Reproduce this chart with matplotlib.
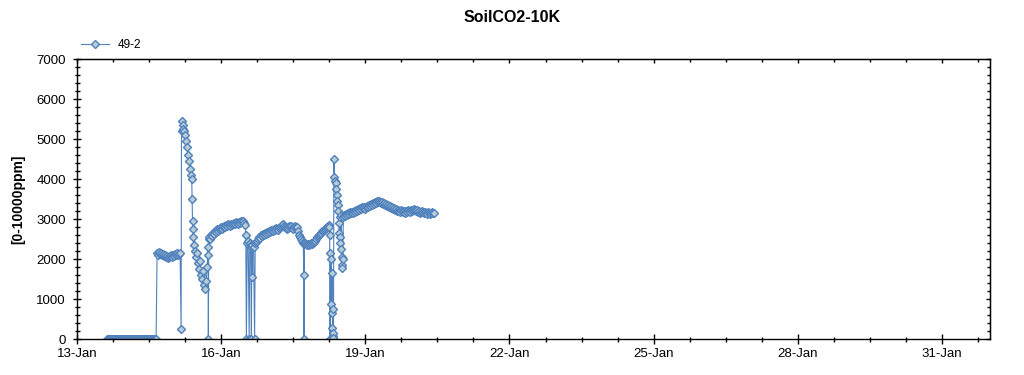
import datetime as dt
import matplotlib
matplotlib.use('Agg')
import matplotlib.pyplot as plt
import matplotlib.dates as mdates
from matplotlib.ticker import FixedLocator, MultipleLocator, NullFormatter
import numpy as np

plt.rcParams['font.family'] = ['Liberation Sans', 'DejaVu Sans']

# all times are hours after 13-Jan 00:00 (ppm)

# sensor sitting at zero
zero_h = [15, 15.5, 16, 16.5, 17, 17.5, 18, 18.5, 19, 19.5, 20, 20.5, 21, 21.5, 22, 22.5, 23, 23.5,
          24, 24.5, 25, 25.5, 26, 26.5, 27, 27.5, 28, 28.5, 29, 29.5, 30, 30.5, 31, 31.5, 32, 32.5,
          33, 33.5, 34, 34.5, 35, 35.5, 36, 36.5, 37, 37.5, 38, 38.5, 39, 39.5]
zero_v = [0, 0, 0, 0, 0, 0, 0, 0, 0, 0, 0, 0, 0, 0, 0, 0, 0, 0,
          0, 0, 0, 0, 0, 0, 0, 0, 0, 0, 0, 0, 0, 0, 0, 0, 0, 0,
          0, 0, 0, 0, 0, 0, 0, 0, 0, 0, 0, 0, 0, 0]

# first plateau ~2100
plat1_h = [40, 40.5, 41, 41.5, 42, 42.5, 43, 43.5, 44, 44.5, 45, 45.5,
           46, 46.5, 47, 47.5, 48, 48.5, 49, 49.5, 50, 50.5, 51, 51.5]
plat1_v = [2150, 2100, 2175, 2125, 2150, 2100, 2125, 2075, 2100, 2050, 2075, 2025,
           2050, 2075, 2100, 2050, 2100, 2075, 2125, 2100, 2150, 2100, 2125, 2150]

# spike to 5400 and the noisy trough after it
spike_h = [52.0, 52.2, 52.4, 52.7, 53.0, 53.4, 53.9, 54.4, 54.9, 55.4, 55.9, 56.4, 56.9, 57.3, 57.5, 57.7, 57.9,
           58.1, 58.5, 59, 59.5, 60, 60.5, 61, 61.5, 62, 62.5, 63, 63.5, 64, 64.5, 65, 65.3, 65.5, 65.6]
spike_v = [250, 5450, 5200, 5350, 5250, 5200, 5100, 4950, 4800, 4600, 4450, 4250, 4100, 4000, 3500, 2950, 2750,
           2550, 2350, 2200, 2050, 2150, 1900, 1750, 1950, 1600, 1500, 1700, 1350, 1250, 1450, 1800, 2100, 2300, 0]

# rise to ~2900
plat2_h = [65.8, 66, 66.5, 67, 67.5, 68, 68.5, 69, 69.5, 70, 70.5, 71, 71.5, 72, 72.5, 73, 73.5, 74, 74.5,
           75, 75.5, 76, 76.5, 77, 77.5, 78, 78.5, 79, 79.5, 80, 80.5, 81, 81.5, 82, 82.5, 83, 83.5, 84]
plat2_v = [2500, 2550, 2500, 2600, 2575, 2650, 2625, 2700, 2675, 2750, 2700, 2750, 2775, 2800, 2750, 2800, 2825, 2800, 2850,
           2825, 2875, 2850, 2825, 2875, 2850, 2875, 2900, 2875, 2925, 2900, 2875, 2925, 2900, 2950, 2925, 2950, 2900, 2850]

# dropouts around 16-Jan noon
drop1_h = [84.3, 84.6, 85.0, 85.5, 86.0, 86.3, 86.8, 87.1, 87.3, 87.4, 87.6, 88.2, 88.7]
drop1_v = [2600, 0, 2400, 2450, 0, 2400, 2350, 0, 2300, 1550, 2350, 2300, 0]

# second rise to ~2800
plat3_h = [89, 89.5, 90, 90.5, 91, 91.5, 92, 92.5, 93, 93.5, 94, 94.5, 95, 95.5, 96, 96.5, 97, 97.5,
           98, 98.5, 99, 99.5, 100, 100.5, 101, 101.5, 102, 102.5, 103, 103.5, 104, 104.5, 105, 105.5,
           106, 106.5, 107, 107.5, 108, 108.5, 109, 109.5, 110,
           110.5, 111, 111.5, 112, 112.5, 113, 113.3, 113.4, 113.6]
plat3_v = [2400, 2425, 2450, 2500, 2550, 2525, 2600, 2575, 2625, 2600, 2650, 2625, 2675, 2650, 2700, 2675, 2725, 2700,
           2700, 2750, 2725, 2775, 2750, 2725, 2775, 2800, 2825, 2850, 2875, 2825, 2800, 2775, 2750, 2775,
           2825, 2800, 2825, 2775, 2750, 2800, 2825, 2800, 2800,
           2700, 2600, 2550, 2500, 2450, 2400, 1600, 0, 2400]

plat4_h = [114, 114.5, 115, 115.5, 116, 116.5, 117, 117.5, 118, 118.5, 119, 119.5,
           120, 120.5, 121, 121.5, 122, 122.5, 123, 123.5, 124, 124.5, 125, 125.5, 125.8]
plat4_v = [2400, 2375, 2350, 2375, 2350, 2375, 2400, 2375, 2400, 2425, 2450, 2500,
           2550, 2575, 2600, 2625, 2650, 2700, 2700, 2725, 2750, 2775, 2800, 2825, 2850]

# dropouts and 4500 spike on 18-Jan
drop2_h = [126.0, 126.2, 126.4, 126.6, 126.8, 127.0, 127.2, 127.4, 127.6, 127.8, 127.9,
           128.0, 128.1, 128.3, 128.6, 128.9, 129.2, 129.5, 129.8, 130.1, 130.4, 130.6, 130.8,
           131.0, 131.2, 131.4, 131.6, 131.8, 132.0, 132.2, 132.4, 132.6, 132.8]
drop2_v = [2800, 2600, 0, 2150, 875, 2000, 650, 1650, 275, 750, 75,
           160, 25, 4500, 4050, 3950, 3900, 3750, 3600, 3450, 3350, 3200, 2900,
           2650, 3050, 2550, 2400, 2250, 3100, 2050, 1850, 1775, 2000]

# last stretch ~3100-3450
plat5_h = [133, 133.5, 134, 134.5, 135, 135.5, 136, 136.5, 137, 137.5,
           138, 138.5, 139, 139.5, 140, 140.5, 141, 141.5, 142, 142.5,
           143, 143.5, 144, 144.5, 145, 145.5, 146, 146.5, 147, 147.5,
           148, 148.5, 149, 149.5, 150, 150.5, 151, 151.5, 152, 152.5,
           153, 153.5, 154, 154.5, 155, 155.5, 156, 156.5, 157, 157.5,
           158, 158.5, 159, 159.5, 160, 160.5, 161, 161.5, 162, 162.5,
           163, 163.5, 164, 164.5, 165, 165.5, 166, 166.5, 167, 167.5,
           168, 168.5, 169, 169.5, 170, 170.5, 171, 171.5, 172, 172.5,
           173, 173.5, 174, 174.5, 175, 175.5, 176, 176.5, 177, 177.5,
           178, 178.5]
plat5_v = [3050, 3100, 3075, 3125, 3100, 3150, 3125, 3175, 3150, 3175,
           3150, 3200, 3175, 3225, 3200, 3250, 3225, 3275, 3250, 3300,
           3275, 3300, 3250, 3300, 3325, 3300, 3350, 3325, 3375, 3350,
           3400, 3375, 3425, 3400, 3450, 3425, 3450, 3425, 3400, 3425,
           3375, 3400, 3350, 3375, 3325, 3350, 3300, 3325, 3275, 3300,
           3250, 3275, 3225, 3250, 3200, 3225, 3200, 3175, 3225, 3200,
           3175, 3200, 3150, 3200, 3175, 3225, 3200, 3175, 3225, 3200,
           3225, 3250, 3225, 3200, 3225, 3175, 3200, 3150, 3175, 3200,
           3175, 3150, 3175, 3150, 3125, 3175, 3150, 3125, 3150, 3175,
           3150, 3140]

hours = (zero_h + plat1_h + spike_h + plat2_h + drop1_h + plat3_h
         + plat4_h + drop2_h + plat5_h)
ppm = (zero_v + plat1_v + spike_v + plat2_v + drop1_v + plat3_v
       + plat4_v + drop2_v + plat5_v)
assert len(hours) == len(ppm)

series_name = '49-2'
start = dt.datetime(2015, 1, 13)
end = dt.datetime(2015, 2, 1)
times = [start + dt.timedelta(hours=h) for h in hours]

blue = '#4f81bd'
face = '#b9ccd6'

fig = plt.figure(figsize=(10.24, 3.75), dpi=100)
ax = fig.add_axes([77 / 1024, 36 / 375, 913 / 1024, 280 / 375])

ax.plot(times, ppm, color=blue, lw=0.8, marker='D', ms=4.0,
        mfc=face, mec=blue, mew=1.0, label=series_name)

ax.set_xlim(start, end)
ax.set_ylim(0, 7000)

x0 = mdates.date2num(start)
major = x0 + np.arange(0, 19.01, 3)
minor = x0 + np.arange(0, 19.01, 0.75)
ax.xaxis.set_major_locator(FixedLocator(major))
ax.xaxis.set_minor_locator(FixedLocator(minor))
ax.xaxis.set_major_formatter(mdates.DateFormatter('%d-%b'))
ax.yaxis.set_major_locator(MultipleLocator(1000))
ax.yaxis.set_minor_locator(MultipleLocator(200))

ax.tick_params(axis='y', which='major', direction='inout', length=6, width=1, labelsize=9.5, pad=5)
ax.tick_params(axis='y', which='minor', direction='inout', length=3.6, width=1)
ax.tick_params(axis='x', which='major', direction='inout', length=7.2, width=1, labelsize=9.5, pad=3)
ax.tick_params(axis='x', which='minor', direction='inout', length=3.6, width=1)

# top and right spines carry inward ticks only
top = ax.secondary_xaxis('top')
top.xaxis.set_major_locator(FixedLocator(major))
top.xaxis.set_minor_locator(FixedLocator(minor))
top.xaxis.set_major_formatter(NullFormatter())
top.tick_params(which='major', direction='in', length=3, width=1)
top.tick_params(which='minor', direction='in', length=2.2, width=1)

right = ax.secondary_yaxis('right')
right.yaxis.set_major_locator(MultipleLocator(1000))
right.yaxis.set_minor_locator(MultipleLocator(200))
right.yaxis.set_major_formatter(NullFormatter())
right.tick_params(which='major', direction='in', length=3, width=1)
right.tick_params(which='minor', direction='in', length=2.2, width=1)

for s in ax.spines.values():
    s.set_linewidth(1)

fig.text(0.5, 1 - 18 / 375, 'SoilCO2-10K', ha='center', va='center',
         fontsize=11.5, fontweight='bold')
fig.text(18 / 1024, 1 - 199 / 375, '[0-10000ppm]', ha='center', va='center',
         rotation=90, fontsize=10, fontweight='bold')

fig.legend(loc='center left', bbox_to_anchor=(81 / 1024, 1 - 45 / 375),
           frameon=False, fontsize=8.5, handlelength=2.4, handletextpad=0.7,
           borderpad=0, borderaxespad=0)

fig.savefig('out.png', dpi=100)
